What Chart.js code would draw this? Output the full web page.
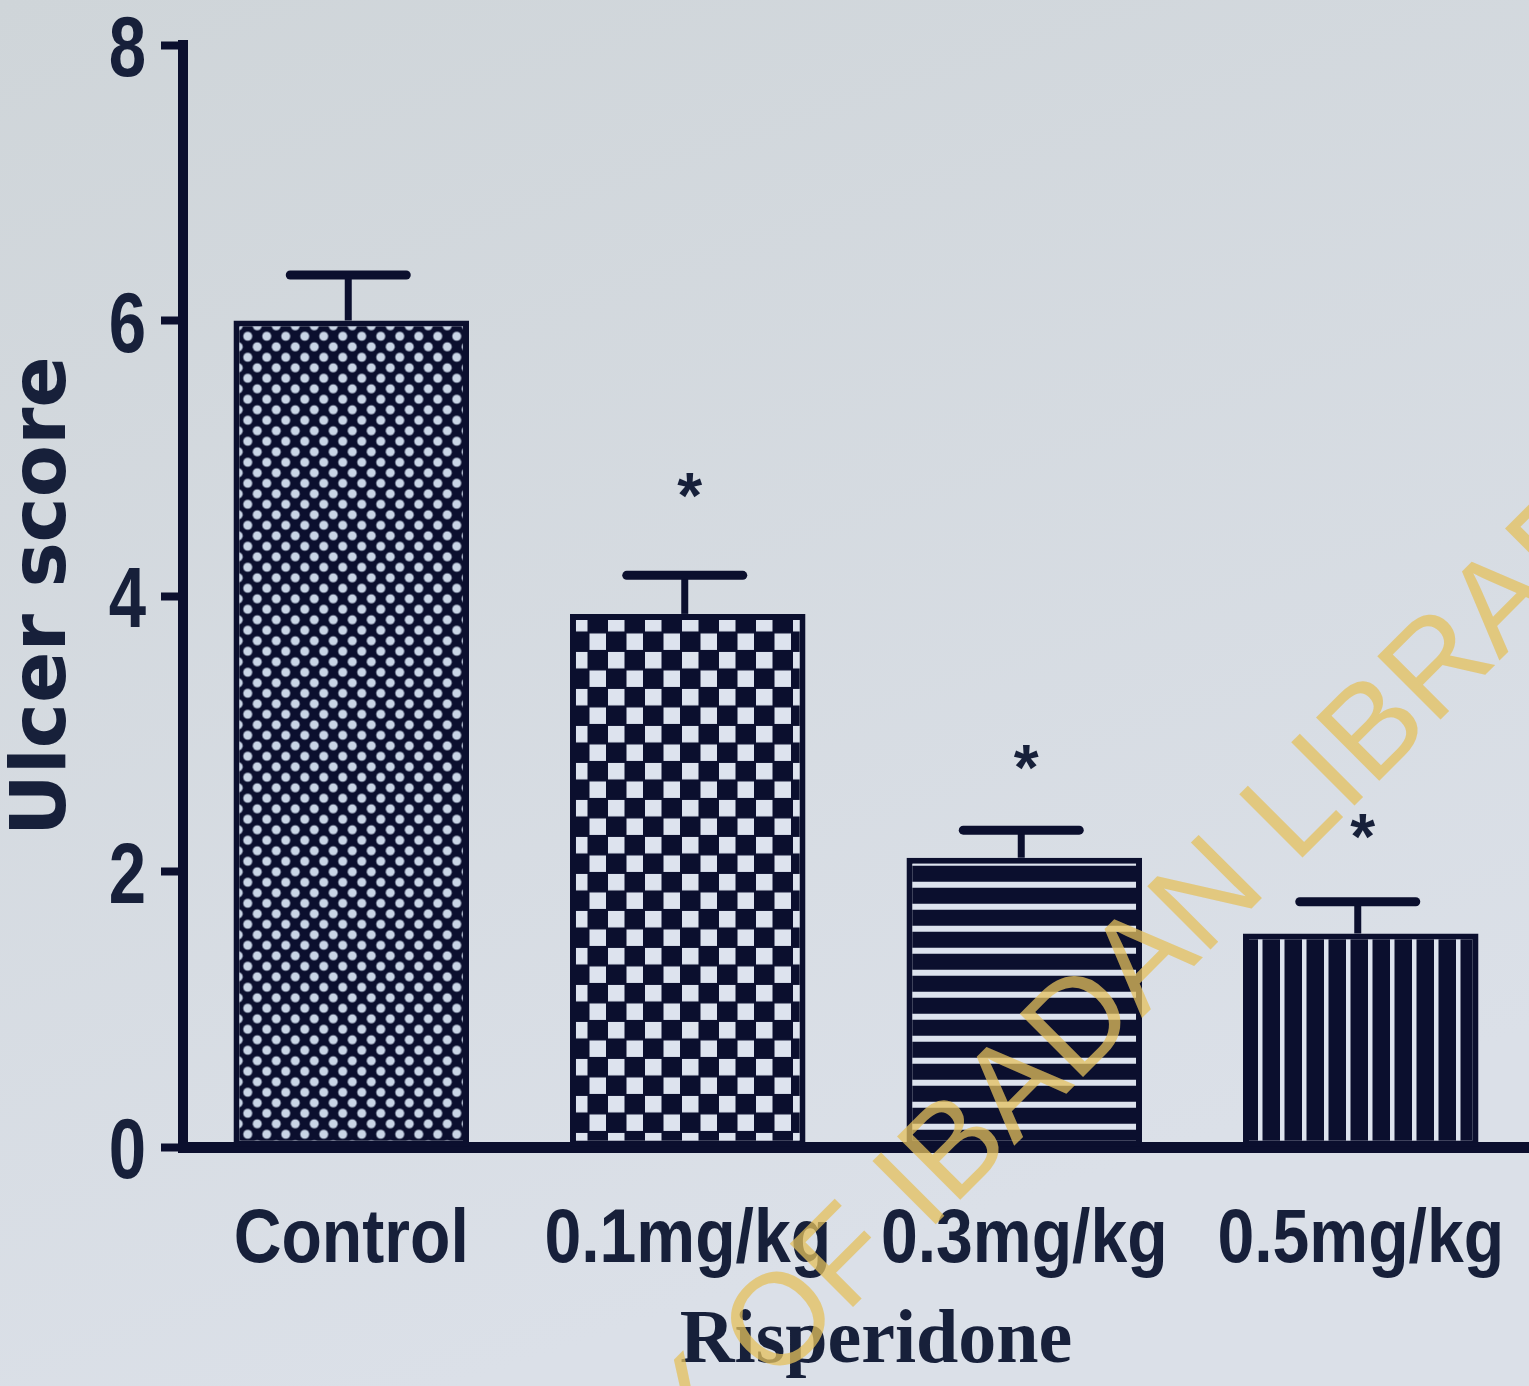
<!DOCTYPE html>
<html>
<head>
<meta charset="utf-8">
<script src="https://cdn.jsdelivr.net/npm/chart.js@4.4.1/dist/chart.umd.min.js"></script>
<style>
  html,body{margin:0;padding:0;background:#d6dce2;}
  #wrap{width:1529px;height:1386px;position:relative;}
</style>
</head>
<body>
<div id="wrap"><canvas id="chart"></canvas></div>
<script>
// data
const categories  = ['Control', '0.1mg/kg', '0.3mg/kg', '0.5mg/kg'];
const ulcerScore  = [6.0, 3.87, 2.1, 1.55];
const errorUpper  = [6.33, 4.15, 2.3, 1.78];
const starLevel   = [null, 4.75, 2.78, 2.28];
const yTicks      = [0, 2, 4, 6, 8];
const xTitle      = 'Risperidone';
const yTitle      = 'Ulcer score';

const NAVY  = '#0b0f2e';
const INK   = '#17203a';
const LIGHT = '#dde3ee';
const SANS  = '"Liberation Sans", Arial, sans-serif';

function makePattern(kind){
  const c = document.createElement('canvas');
  const g = c.getContext('2d');
  if(kind==='dots'){
    c.width = 19; c.height = 21;
    g.fillStyle = NAVY; g.fillRect(0,0,19,21);
    g.fillStyle = '#c9d5e6';
    [[4.75,5.25],[14.25,15.75]].forEach(([x,y])=>{ g.beginPath(); g.arc(x,y,4.5,0,Math.PI*2); g.fill(); });
  } else if(kind==='checker'){
    c.width = 37; c.height = 37;
    g.fillStyle = NAVY; g.fillRect(0,0,37,37);
    g.fillStyle = LIGHT;
    g.fillRect(1,1,16.5,16.5); g.fillRect(19.5,19.5,16.5,16.5);
  } else if(kind==='hstripe'){
    c.width = 22; c.height = 22;
    g.fillStyle = NAVY; g.fillRect(0,0,22,22);
    g.fillStyle = LIGHT; g.fillRect(0,14,22,6);
  } else {
    c.width = 22; c.height = 22;
    g.fillStyle = NAVY; g.fillRect(0,0,22,22);
    g.fillStyle = LIGHT; g.fillRect(15,0,4.5,22);
  }
  return g.createPattern(c,'repeat');
}
const patterns = [makePattern('dots'), makePattern('checker'), makePattern('hstripe'), makePattern('vstripe')];
const patternShiftY = [0, 0, 10, 0];

const bgPlugin = {
  id:'bg',
  beforeDraw(chart){
    const {ctx, width, height} = chart;
    const grad = ctx.createLinearGradient(0,0,width*0.3,height);
    grad.addColorStop(0,'#cfd5d9');
    grad.addColorStop(1,'#dbe0e8');
    ctx.save(); ctx.fillStyle = grad; ctx.fillRect(0,0,width,height); ctx.restore();
  }
};

// line each pattern up with its own bar
const alignPlugin = {
  id:'align',
  beforeDatasetsDraw(chart){
    chart.getDatasetMeta(0).data.forEach((el,i)=>{
      patterns[i].setTransform(new DOMMatrix([1,0,0,1, el.x - el.width/2, el.y + patternShiftY[i]]));
    });
  }
};

const errPlugin = {
  id:'errbars',
  afterDatasetsDraw(chart){
    const {ctx} = chart;
    const y = chart.scales.y;
    const meta = chart.getDatasetMeta(0);
    ctx.save();
    ctx.strokeStyle = NAVY;
    ctx.fillStyle = INK;
    meta.data.forEach((el,i)=>{
      const top = y.getPixelForValue(errorUpper[i]);
      const x = el.x - 3;
      ctx.lineWidth = 7;
      ctx.beginPath(); ctx.moveTo(x, el.y); ctx.lineTo(x, top); ctx.stroke();
      ctx.lineWidth = 9; ctx.lineCap = 'round';
      ctx.beginPath(); ctx.moveTo(x-58, top); ctx.lineTo(x+58, top); ctx.stroke();
      ctx.lineCap = 'butt';
      if(starLevel[i] != null){
        ctx.font = 'bold 64px ' + SANS;
        ctx.textAlign = 'center'; ctx.textBaseline = 'middle';
        ctx.fillText('*', el.x + 2, y.getPixelForValue(starLevel[i]) + 8);
      }
    });
    ctx.restore();
  }
};

// condensed bold tick labels (no narrow font installed, so squeeze horizontally)
const labelPlugin = {
  id:'labels',
  afterDraw(chart){
    const {ctx, chartArea} = chart;
    const xs = chart.scales.x, ys = chart.scales.y;
    ctx.save();
    ctx.fillStyle = INK;
    ctx.textBaseline = 'alphabetic';
    ctx.font = 'bold 76px ' + SANS;
    ctx.textAlign = 'center';
    categories.forEach((lab,i)=>{
      ctx.save();
      ctx.translate(xs.getPixelForValue(i), chartArea.bottom + 115);
      ctx.scale(0.87, 1);
      ctx.fillText(lab, 0, 0);
      ctx.restore();
    });
    ctx.font = 'bold 86px ' + SANS;
    ctx.textAlign = 'right';
    yTicks.forEach(v=>{
      ctx.save();
      ctx.translate(146, ys.getPixelForValue(v) + 31);
      ctx.scale(0.78, 1);
      ctx.fillText(String(v), 0, 0);
      ctx.restore();
    });
    ctx.font = 'bold 76px "Liberation Serif", serif';
    ctx.textAlign = 'center';
    ctx.fillText(xTitle, (xs.getPixelForValue(1) + xs.getPixelForValue(2))/2 + 20, chartArea.bottom + 215);
    ctx.restore();
  }
};

const watermarkPlugin = {
  id:'watermark',
  afterDraw(chart){
    const {ctx} = chart;
    ctx.save();
    ctx.font = '130px ' + SANS;
    const w = ctx.measureText('UNIVERSITY OF IBADAN ').width;
    ctx.translate(1295, 865);
    ctx.rotate(-Math.PI/4);
    ctx.fillStyle = 'rgba(228,192,92,0.75)';
    ctx.fillText('UNIVERSITY OF IBADAN LIBRARY', -w, 0);
    ctx.restore();
  }
};

new Chart(document.getElementById('chart'), {
  type:'bar',
  data:{
    labels: categories,
    datasets:[{
      data: ulcerScore,
      backgroundColor: patterns,
      borderColor: NAVY,
      borderWidth: 6,
      borderSkipped: false,
      barPercentage: 0.7,
      categoryPercentage: 1.0
    }]
  },
  options:{
    responsive:true,
    maintainAspectRatio:false,
    animation:false,
    devicePixelRatio:1,
    layout:{ padding:{ top:45, right:0, left:0, bottom:0 } },
    plugins:{ legend:{display:false}, tooltip:{enabled:false} },
    scales:{
      x:{
        grid:{ display:false, drawTicks:false },
        border:{ display:true, color:NAVY, width:11 },
        ticks:{ display:false },
        afterFit(s){ s.height = 239; }
      },
      y:{
        min:0, max:8,
        afterBuildTicks(s){ s.ticks = yTicks.map(v=>({value:v})); },
        grid:{ display:true, drawOnChartArea:false, drawTicks:true, tickLength:22, tickColor:NAVY, tickWidth:8 },
        border:{ display:true, color:NAVY, width:10 },
        ticks:{ display:false },
        title:{ display:true, text:yTitle, color:INK, padding:{top:0, bottom:0},
                font:{ family:'"DejaVu Sans"', weight:'bold', size:76 } },
        afterFit(s){ s.width = 183; }
      }
    }
  },
  plugins:[bgPlugin, alignPlugin, errPlugin, labelPlugin, watermarkPlugin]
});
</script>
</body>
</html>
